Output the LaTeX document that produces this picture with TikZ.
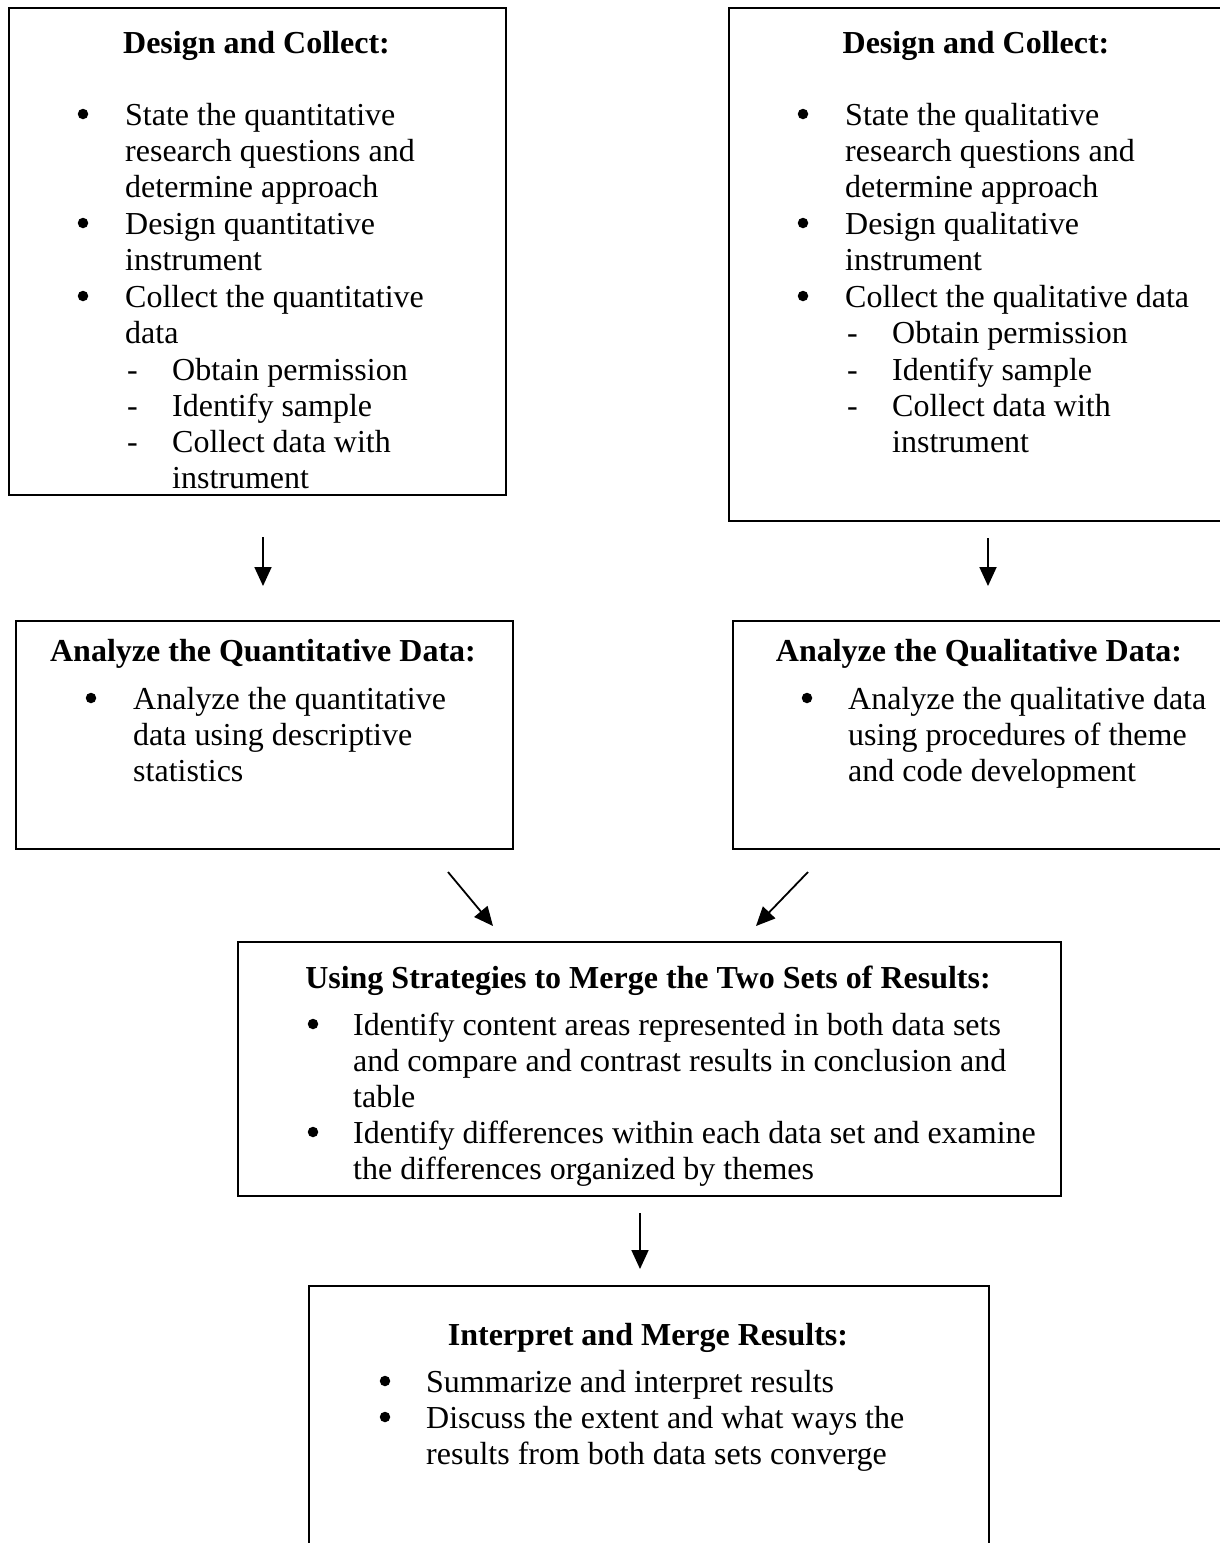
\documentclass[tikz,border=0pt]{standalone}
\usepackage{fontspec}
\setmainfont{Liberation Serif}
\usetikzlibrary{arrows.meta}
\begin{document}
\begin{tikzpicture}[x=1pt,y=-1pt,
  box/.style={draw, line width=1.8pt, inner sep=0pt, anchor=north west},
  ttl/.style={anchor=base, font=\bfseries\fontsize{32}{36}\selectfont, inner sep=0pt},
  txt/.style={anchor=base west, font=\fontsize{32}{36}\selectfont, inner sep=0pt},
  bul/.style={circle, fill, inner sep=0pt, minimum size=10.5pt},
  arr/.style={line width=1.8pt, -{Triangle[length=19pt,width=17pt]}}]
\useasboundingbox (0,0) rectangle (1220,1543);
\clip (0,0) rectangle (1220,1543);
\fill[white] (0,0) rectangle (1220,1543);

% boxes
\node[box, minimum width=497pt, minimum height=487pt] (b1) at (8,7) {};
\node[box, minimum width=496pt, minimum height=513pt] (b2) at (728,7) {};
\node[box, minimum width=497pt, minimum height=228pt] (b3) at (15,620) {};
\node[box, minimum width=494pt, minimum height=228pt] (b4) at (732,620) {};
\node[box, minimum width=823pt, minimum height=254pt] (b5) at (237,941) {};
\node[box, minimum width=680pt, minimum height=320pt] (b6) at (308,1285) {};

% box 1
\node[ttl] (t1) at (256.5,53) {Design and Collect:};
\node[bul] (p1a) at (83,114) {};
\node[txt] (l1a) at (125,125) {State the quantitative};
\node[txt] (l1b) at (125,161) {research questions and};
\node[txt] (l1c) at (125,197) {determine approach};
\node[bul] (p1b) at (83,223) {};
\node[txt] (l1d) at (125,234) {Design quantitative};
\node[txt] (l1e) at (125,270) {instrument};
\node[bul] (p1c) at (83,296) {};
\node[txt] (l1f) at (125,307) {Collect the quantitative};
\node[txt] (l1g) at (125,343) {data};
\node[txt] (d1a) at (127,380) {-};
\node[txt] (l1h) at (172,380) {Obtain permission};
\node[txt] (d1b) at (127,416) {-};
\node[txt] (l1i) at (172,416) {Identify sample};
\node[txt] (d1c) at (127,452) {-};
\node[txt] (l1j) at (172,452) {Collect data with};
\node[txt] (l1k) at (172,488) {instrument};

% box 2
\node[ttl] (t2) at (976,53) {Design and Collect:};
\node[bul] (p2a) at (803,114) {};
\node[txt] (l2a) at (845,125) {State the qualitative};
\node[txt] (l2b) at (845,161) {research questions and};
\node[txt] (l2c) at (845,197) {determine approach};
\node[bul] (p2b) at (803,223) {};
\node[txt] (l2d) at (845,234) {Design qualitative};
\node[txt] (l2e) at (845,270) {instrument};
\node[bul] (p2c) at (803,296) {};
\node[txt] (l2f) at (845,307) {Collect the qualitative data};
\node[txt] (d2a) at (847,343) {-};
\node[txt] (l2g) at (892,343) {Obtain permission};
\node[txt] (d2b) at (847,380) {-};
\node[txt] (l2h) at (892,380) {Identify sample};
\node[txt] (d2c) at (847,416) {-};
\node[txt] (l2i) at (892,416) {Collect data with};
\node[txt] (l2j) at (892,452) {instrument};

% box 3
\node[ttl] (t3) at (263,661) {Analyze the Quantitative Data:};
\node[bul] (p3a) at (91,698) {};
\node[txt] (l3a) at (133,709) {Analyze the quantitative};
\node[txt] (l3b) at (133,745) {data using descriptive};
\node[txt] (l3c) at (133,781) {statistics};

% box 4
\node[ttl] (t4) at (979,661) {Analyze the Qualitative Data:};
\node[bul] (p4a) at (807,698) {};
\node[txt] (l4a) at (848,709) {Analyze the qualitative data};
\node[txt] (l4b) at (848,745) {using procedures of theme};
\node[txt] (l4c) at (848,781) {and code development};

% box 5
\node[ttl] (t5) at (648,988) {Using Strategies to Merge the Two Sets of Results:};
\node[bul] (p5a) at (313,1024) {};
\node[txt] (l5a) at (353,1035) {Identify content areas represented in both data sets};
\node[txt] (l5b) at (353,1071) {and compare and contrast results in conclusion and};
\node[txt] (l5c) at (353,1107) {table};
\node[bul] (p5b) at (313,1132) {};
\node[txt] (l5d) at (353,1143) {Identify differences within each data set and examine};
\node[txt] (l5e) at (353,1179) {the differences organized by themes};

% box 6
\node[ttl] (t6) at (648,1345) {Interpret and Merge Results:};
\node[bul] (p6a) at (385,1381) {};
\node[txt] (l6a) at (426,1392) {Summarize and interpret results};
\node[bul] (p6b) at (385,1417) {};
\node[txt] (l6b) at (426,1428) {Discuss the extent and what ways the};
\node[txt] (l6c) at (426,1464) {results from both data sets converge};

% connectors
\coordinate (a1s) at (263,537); \coordinate (a1e) at (263,586);
\coordinate (a2s) at (988,538); \coordinate (a2e) at (988,586);
\coordinate (a3s) at (448,872); \coordinate (a3e) at (493,926);
\coordinate (a4s) at (808,872); \coordinate (a4e) at (756,926);
\coordinate (a5s) at (640,1213); \coordinate (a5e) at (640,1269);
\draw[arr] (a1s) -- (a1e);
\draw[arr] (a2s) -- (a2e);
\draw[arr] (a3s) -- (a3e);
\draw[arr] (a4s) -- (a4e);
\draw[arr] (a5s) -- (a5e);
\end{tikzpicture}
\end{document}
